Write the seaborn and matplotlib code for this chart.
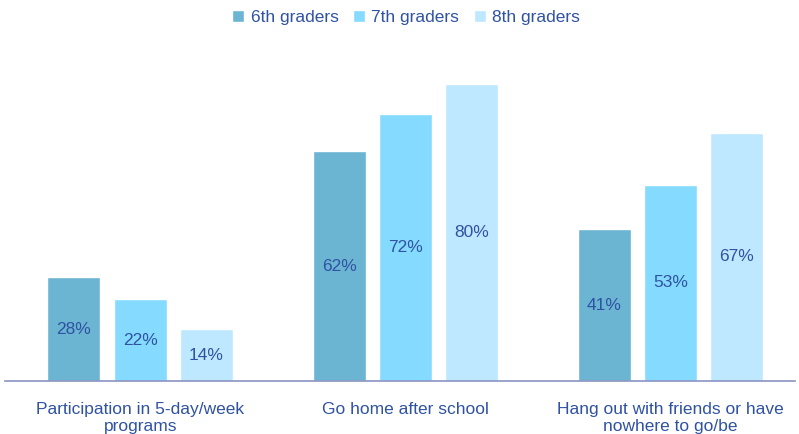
import pandas as pd
import matplotlib.pyplot as plt
import seaborn as sns

# Data
categories = ['Participation in 5-day/week\nprograms', 'Go home after school',
              'Hang out with friends or have\nnowhere to go/be']
grades = ['6th graders', '7th graders', '8th graders']
sixth = [28, 62, 41]
seventh = [22, 72, 53]
eighth = [14, 80, 67]

colors = ['#6BB5D3', '#84DBFF', '#BEE8FF']
text_color = '#2F52A3'

df = pd.DataFrame({
    'category': categories * 3,
    'grade': [g for g in grades for _ in categories],
    'value': sixth + seventh + eighth,
})

sns.set_style('white')
plt.rcParams['font.family'] = ['Liberation Sans', 'DejaVu Sans']

fig = plt.figure(figsize=(7.99, 4.34), dpi=100)
ax = fig.add_axes([0.006, 0.122, 0.989, 0.786])

sns.barplot(data=df, x='category', y='value', hue='grade', palette=colors,
            width=0.75, gap=0.2, saturation=1, ax=ax, legend=True)

for cont in ax.containers:
    for bar in cont:
        h = bar.get_height()
        ax.text(bar.get_x() + bar.get_width() / 2, h / 2, f'{h:.0f}%',
                ha='center', va='center', fontsize=12.5, color=text_color)

ax.set_xlim(-0.511, 2.47)
ax.set_ylim(0, 92)
ax.set_xlabel('')
ax.set_ylabel('')
ax.set_yticks([])
ax.tick_params(axis='x', length=0, pad=15, labelsize=12.5, labelcolor=text_color)
for lab in ax.get_xticklabels():
    lab.set_linespacing(1.2)
for s in ['top', 'left', 'right']:
    ax.spines[s].set_visible(False)
ax.spines['bottom'].set_color('#8A93C4')
ax.spines['bottom'].set_linewidth(1.2)

leg = ax.legend(loc='center', bbox_to_anchor=(0.508, 1.065), ncol=3, frameon=False,
                fontsize=12.5, handlelength=0.7, handleheight=0.7, handletextpad=0.35,
                columnspacing=0.85)
for t in leg.get_texts():
    t.set_color(text_color)

fig.savefig('out.png', dpi=100)
